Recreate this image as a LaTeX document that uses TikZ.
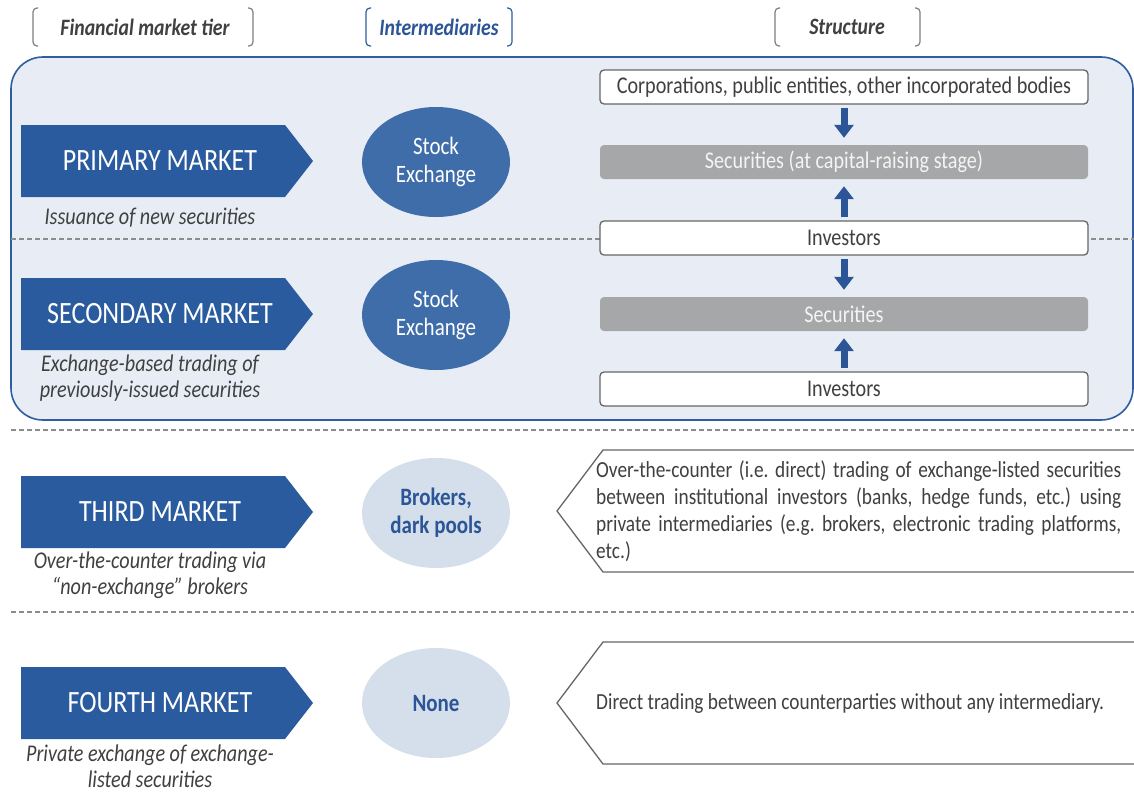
\documentclass[tikz,border=0pt]{standalone}
\usepackage{fontspec}
\setmainfont{Carlito}[FakeStretch=0.84]
\usetikzlibrary{arrows.meta,shapes.geometric}
\frenchspacing

\definecolor{tierblue}{HTML}{2A5B9E}
\definecolor{ovalblue}{HTML}{3E6DAA}
\definecolor{ovallight}{HTML}{D5DFEC}
\definecolor{darkblue}{HTML}{2B5597}
\definecolor{panelfill}{HTML}{E8EDF5}
\definecolor{panelline}{HTML}{2E5E9F}
\definecolor{secgray}{HTML}{A6A7A9}
\definecolor{secwhite}{HTML}{F4F4F4}
\definecolor{txt}{HTML}{404040}
\definecolor{dashgray}{HTML}{8C8C8C}
\definecolor{boxline}{HTML}{666666}
\definecolor{brackgray}{HTML}{7F7F7F}

\tikzset{
  hdr/.style={font=\bfseries\itshape\fontsize{23.5}{26}\selectfont, text=txt, inner sep=0},
  bracketline/.style={brackgray, line width=1.2pt, rounded corners=4pt},
  tiertext/.style={text=white, font=\fontsize{31}{34}\selectfont, inner sep=0},
  subtext/.style={text=txt, font=\itshape\fontsize{24}{26}\selectfont, align=center, inner sep=0},
  oval/.style={ellipse, fill=ovalblue, text=white, minimum width=148pt, minimum height=110pt,
    align=center, font=\fontsize{25}{28}\selectfont, inner sep=0},
  ovallt/.style={oval, fill=ovallight, text=darkblue, font=\bfseries\fontsize{25}{28}\selectfont},
  panelbox/.style={draw=panelline, fill=panelfill, line width=1.6pt, rounded corners=32pt,
    minimum width=1122pt, minimum height=363pt, inner sep=0},
  whitebox/.style={draw=boxline, fill=white, rounded corners=4pt, line width=1.3pt,
    minimum width=488pt, minimum height=34pt, text=txt, font=\fontsize{24}{26}\selectfont, inner sep=0},
  graybox/.style={fill=secgray, rounded corners=4pt, minimum width=488pt, minimum height=34pt,
    text=secwhite, font=\fontsize{24}{26}\selectfont, inner sep=0},
  flow/.style={draw=darkblue, line width=7pt, -{Triangle[length=13pt,width=19pt]},
    shorten <=3pt, shorten >=7pt},
  divider/.style={dashgray, line width=1.3pt, dash pattern=on 5pt off 3pt},
  structline/.style={draw=boxline, line width=1.3pt},
  structtext/.style={text=txt, font=\fontsize{23}{27}\selectfont, inner sep=0},
}

% tier banner: #1 = centre line, #2 = node name, #3 = label
\newcommand\tierbanner[3]{%
  \fill[tierblue] (21,#1-36) -- (285,#1-36) -- (313,#1) -- (285,#1+36) -- (21,#1+36) -- cycle;
  \node[tiertext] (#2) at (160,#1) {#3};}

\begin{document}
\begin{tikzpicture}[x=1pt,y=-1pt]
\useasboundingbox (0,0) rectangle (1134,793);
\fill[white] (0,0) rectangle (1134,793);

% column headers
\draw[bracketline] (38,8) -- (33,8) -- (33,46) -- (38,46);
\draw[bracketline] (248,8) -- (253,8) -- (253,46) -- (248,46);
\node[hdr] (hTier) at (145,27) {Financial market tier};
\draw[bracketline, panelline] (371,8) -- (366,8) -- (366,46) -- (371,46);
\draw[bracketline, panelline] (507,8) -- (512,8) -- (512,46) -- (507,46);
\node[hdr, text=darkblue] (hInter) at (439,27) {Intermediaries};
\draw[bracketline] (780,8) -- (775,8) -- (775,46) -- (780,46);
\draw[bracketline] (915,8) -- (920,8) -- (920,46) -- (915,46);
\node[hdr] (hStruct) at (847,27) {Structure};

% exchange-based markets panel
\node[panelbox] (panel) at (572,238.5) {};
\draw[divider] (11,239) -- (1134,239);
\draw[divider] (11,430) -- (1134,430);
\draw[divider] (11,612) -- (1134,612);

% tier banners and descriptions
\tierbanner{161}{primary}{PRIMARY MARKET}
\node[subtext] (primaryNote) at (150,218) {Issuance of new securities};
\tierbanner{314}{secondary}{SECONDARY MARKET}
\node[subtext] (secondaryNote) at (150,378) {Exchange-based trading of\\previously-issued securities};
\tierbanner{512}{third}{THIRD MARKET}
\node[subtext] (thirdNote) at (150,575) {Over-the-counter trading via\\``non-exchange'' brokers};
\tierbanner{703}{fourth}{FOURTH MARKET}
\node[subtext] (fourthNote) at (150,766) {Private exchange of exchange-\\listed securities};

% intermediaries
\node[oval] (ex1) at (436,162) {Stock\\Exchange};
\node[oval] (ex2) at (436,315) {Stock\\Exchange};
\node[ovallt] (brokers) at (436,513) {Brokers,\\dark pools};
\node[ovallt] (none) at (436,703) {None};

% primary / secondary structure
\node[whitebox] (issuers) at (844,87) {Corporations, public entities, other incorporated bodies};
\node[graybox] (newsec) at (844,162) {Securities (at capital-raising stage)};
\node[whitebox] (inv1) at (844,238) {Investors};
\node[graybox] (sec) at (844,314) {Securities};
\node[whitebox] (inv2) at (844,389) {Investors};
\draw[flow] (issuers) -- (newsec);
\draw[flow] (inv1) -- (newsec);
\draw[flow] (inv1) -- (sec);
\draw[flow] (inv2) -- (sec);

% third / fourth structure
\draw[structline] (1140,450) -- (603,450) -- (557,511) -- (603,572) -- (1140,572);
\node[structtext, anchor=north west, text width=525pt, align=justify] (otc) at (596,460)
  {\hyphenpenalty=10000 Over-the-counter (i.e. direct) trading of exchange-listed securities\linebreak
   between institutional investors (banks, hedge funds, etc.) using\linebreak
   private intermediaries (e.g. brokers, electronic trading platforms,\linebreak
   etc.)};
\draw[structline] (1140,642) -- (603,642) -- (557,703) -- (603,764) -- (1140,764);
\node[structtext, anchor=west] (direct) at (596,703)
  {Direct trading between counterparties without any intermediary.};
\end{tikzpicture}
\end{document}
